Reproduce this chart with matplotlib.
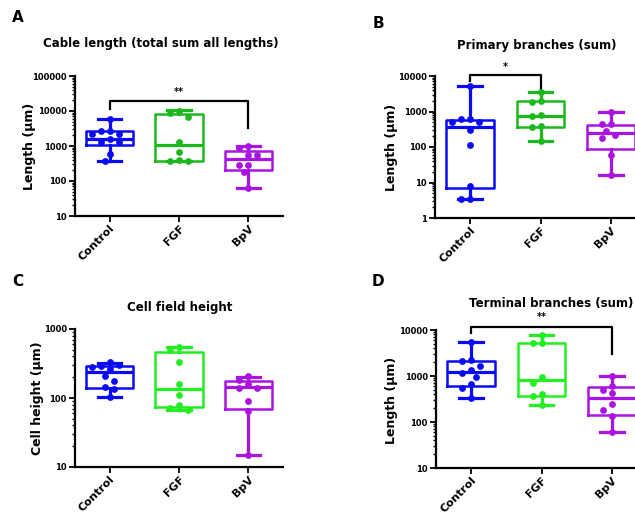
import numpy as np
import matplotlib
matplotlib.use("Agg")
import matplotlib.pyplot as plt
from matplotlib.ticker import FixedLocator, FixedFormatter, LogLocator, NullFormatter

W, H = 635, 519

groups = ["Control", "FGF", "BpV"]

# Panel A: cable length (total sum all lengths)
a_control = [5860, 2650, 2650, 2180, 2180, 1580, 1285, 1285, 582, 374]
a_fgf = [10300, 8700, 6960, 1340, 690, 400, 374, 374]
a_bpv = [1008, 870, 543, 543, 288, 288, 185, 62]
a_low = [374, 374, 62]
a_q1 = [1075, 380, 207]
a_med = [1600, 1075, 417]
a_q3 = [2650, 7950, 738]
a_high = [5860, 10800, 1008]

# Panel B: primary branches (sum)
b_control = [5400, 615, 615, 493, 493, 294, 111, 8.1, 3.43, 3.43]
b_fgf = [3540, 2010, 1850, 780, 730, 380, 366, 150]
b_bpv = [968, 453, 453, 288, 212, 180, 60.7, 15.8]
b_low = [3.43, 150, 15.8]
b_q1 = [7.0, 366, 89.6]
b_med = [366, 762, 248]
b_q3 = [588, 2010, 425]
b_high = [5330, 3540, 968]

# Panel C: cell field height
c_control = [335, 293, 303, 277, 259, 210, 177, 145, 137, 105]
c_fgf = [551, 495, 335, 162, 112, 80.5, 71.8, 68]
c_bpv = [207, 181, 158, 140, 140, 90.8, 64.9, 14.8]
c_low = [105, 68, 14.8]
c_q1 = [139, 73.5, 70.3]
c_med = [237, 137, 144]
c_q3 = [293, 463, 177]
c_high = [324, 542, 199]

# Panel D: terminal branches (sum)
d_control = [5430, 2180, 2070, 1620, 1370, 1170, 955, 677, 555, 326]
d_fgf = [7800, 5330, 5170, 955, 710, 398, 366, 238]
d_bpv = [987, 621, 492, 417, 242, 182, 135, 59.4]
d_low = [326, 238, 59.4]
d_q1 = [621, 366, 142]
d_med = [1245, 836, 337]
d_q3 = [2110, 5330, 582]
d_high = [5430, 7800, 987]

# significance brackets: (from, to, top, left leg end, right leg end, label)
a_bracket = (0, 2, 19600, 11300, 3240, "**")
b_bracket = (0, 1, 10400, 7380, 4110, "*")
d_bracket = (0, 2, 11800, 8480, 2990, "**")

BLUE = "#0a0af5"
GREEN_DARK = "#1db81d"
GREEN_BRIGHT = "#22ee22"
PURPLE = "#a914e0"


def fx(x):
    return x / W


def fy(y):
    return 1 - y / H


def make_axes(fig, left, right, top, bottom):
    return fig.add_axes([fx(left), fy(bottom), (right - left) / W, (bottom - top) / H])


def swarm_x(ax, center, vals, dot=7.5):
    # simple beeswarm in pixel space
    bb = ax.get_window_extent()
    lo, hi = np.log10(ax.get_ylim())
    ypx = (np.log10(vals) - lo) / (hi - lo) * bb.height
    x0, x1 = ax.get_xlim()
    unit = bb.width / (x1 - x0)
    placed = []
    xs = []
    for y in ypx:
        for k in [0, -1, 1, -2, 2, -3, 3, -4, 4]:
            dx = k * dot * 0.6
            if all((dx - px) ** 2 + (y - py) ** 2 >= dot ** 2 for px, py in placed):
                break
        placed.append((dx, y))
        xs.append(center + dx / unit)
    return np.array(xs)


def draw_panel(ax, series, low, q1, med, q3, high, colors, ylim, bracket=None):
    ax.set_xlim(-0.5, 2.5)
    ax.set_yscale("log")
    ax.set_ylim(*ylim)
    stats = []
    for i in range(3):
        stats.append(dict(whislo=low[i], q1=q1[i], med=med[i], q3=q3[i], whishi=high[i], fliers=[]))
    parts = ax.bxp(stats, positions=[0, 1, 2], widths=0.68, capwidths=0.34,
                   showfliers=False, manage_ticks=False)
    for i, c in enumerate(colors):
        parts["boxes"][i].set(color=c, linewidth=1.8)
        parts["medians"][i].set(color=c, linewidth=2.3)
        for art in parts["whiskers"][2 * i:2 * i + 2] + parts["caps"][2 * i:2 * i + 2]:
            art.set(color=c, linewidth=2.3)
    for i, (vals, c) in enumerate(zip(series, colors)):
        xs = swarm_x(ax, i, vals)
        ax.scatter(xs, vals, s=24, color=c, zorder=3, linewidths=0)

    decades = [10 ** k for k in range(int(np.log10(ylim[0])), int(np.log10(ylim[1])) + 1)]
    ax.yaxis.set_major_locator(FixedLocator(decades))
    ax.yaxis.set_major_formatter(FixedFormatter([str(int(d)) for d in decades]))
    ax.yaxis.set_minor_locator(LogLocator(base=10, subs=np.arange(2, 10)))
    ax.yaxis.set_minor_formatter(NullFormatter())
    ax.set_xticks([0, 1, 2])
    ax.set_xticklabels(groups, rotation=45, ha="right", rotation_mode="anchor",
                       fontsize=8, fontweight="bold")
    for lab in ax.get_yticklabels():
        lab.set_fontsize(6)
        lab.set_fontweight("bold")
    ax.tick_params(axis="y", which="major", direction="out", length=4, width=1.3, pad=2)
    ax.tick_params(axis="x", which="major", direction="out", length=4, width=1.3, pad=1)
    ax.tick_params(axis="y", which="minor", direction="out", length=2, width=1.0)
    ax.tick_params(axis="x", which="minor", length=0)
    for s in ["top", "right"]:
        ax.spines[s].set_visible(False)
    for s in ["left", "bottom"]:
        ax.spines[s].set_linewidth(1.6)

    if bracket is not None:
        g0, g1, top, leg0, leg1, label = bracket
        ax.plot([g0, g0, g1, g1], [leg0, top, top, leg1], color="black", linewidth=1.6,
                clip_on=False)
        ax.text((g0 + g1) / 2, top * 1.25, label, ha="center", va="bottom",
                fontsize=7, fontweight="bold")


fig = plt.figure(figsize=(W / 100, H / 100), dpi=100)
plt.rcParams["font.family"] = "DejaVu Sans"

ax_a = make_axes(fig, 75, 283, 76, 216)
ax_b = make_axes(fig, 435, 646, 76, 218)
ax_c = make_axes(fig, 75, 283, 329, 467)
ax_d = make_axes(fig, 436, 647, 330, 468)

draw_panel(ax_a, [a_control, a_fgf, a_bpv], a_low, a_q1, a_med, a_q3, a_high,
           [BLUE, GREEN_DARK, PURPLE], (10, 100000), a_bracket)
draw_panel(ax_b, [b_control, b_fgf, b_bpv], b_low, b_q1, b_med, b_q3, b_high,
           [BLUE, GREEN_DARK, PURPLE], (1, 10000), b_bracket)
draw_panel(ax_c, [c_control, c_fgf, c_bpv], c_low, c_q1, c_med, c_q3, c_high,
           [BLUE, GREEN_BRIGHT, PURPLE], (10, 1000))
draw_panel(ax_d, [d_control, d_fgf, d_bpv], d_low, d_q1, d_med, d_q3, d_high,
           [BLUE, GREEN_BRIGHT, PURPLE], (10, 10000), d_bracket)

# titles, y labels and panel letters placed in figure pixels
title_kw = dict(ha="center", va="center", fontsize=8.5, fontweight="bold")
fig.text(fx(161), fy(44), "Cable length (total sum all lengths)", **title_kw)
fig.text(fx(537), fy(45), "Primary branches (sum)", **title_kw)
fig.text(fx(180), fy(307), "Cell field height", **title_kw)
fig.text(fx(551), fy(303), "Terminal branches (sum)", **title_kw)

ylab_kw = dict(ha="center", va="center", rotation=90, fontsize=9, fontweight="bold")
fig.text(fx(30), fy(146), "Length (µm)", **ylab_kw)
fig.text(fx(392), fy(147), "Length (µm)", **ylab_kw)
fig.text(fx(37), fy(398), "Cell height (µm)", **ylab_kw)
fig.text(fx(392), fy(400), "Length (µm)", **ylab_kw)

lab_kw = dict(ha="center", va="center", fontsize=11, fontweight="bold")
fig.text(fx(18), fy(17), "A", **lab_kw)
fig.text(fx(378), fy(23), "B", **lab_kw)
fig.text(fx(18), fy(281), "C", **lab_kw)
fig.text(fx(378), fy(282), "D", **lab_kw)

fig.savefig("out.png", dpi=100)
